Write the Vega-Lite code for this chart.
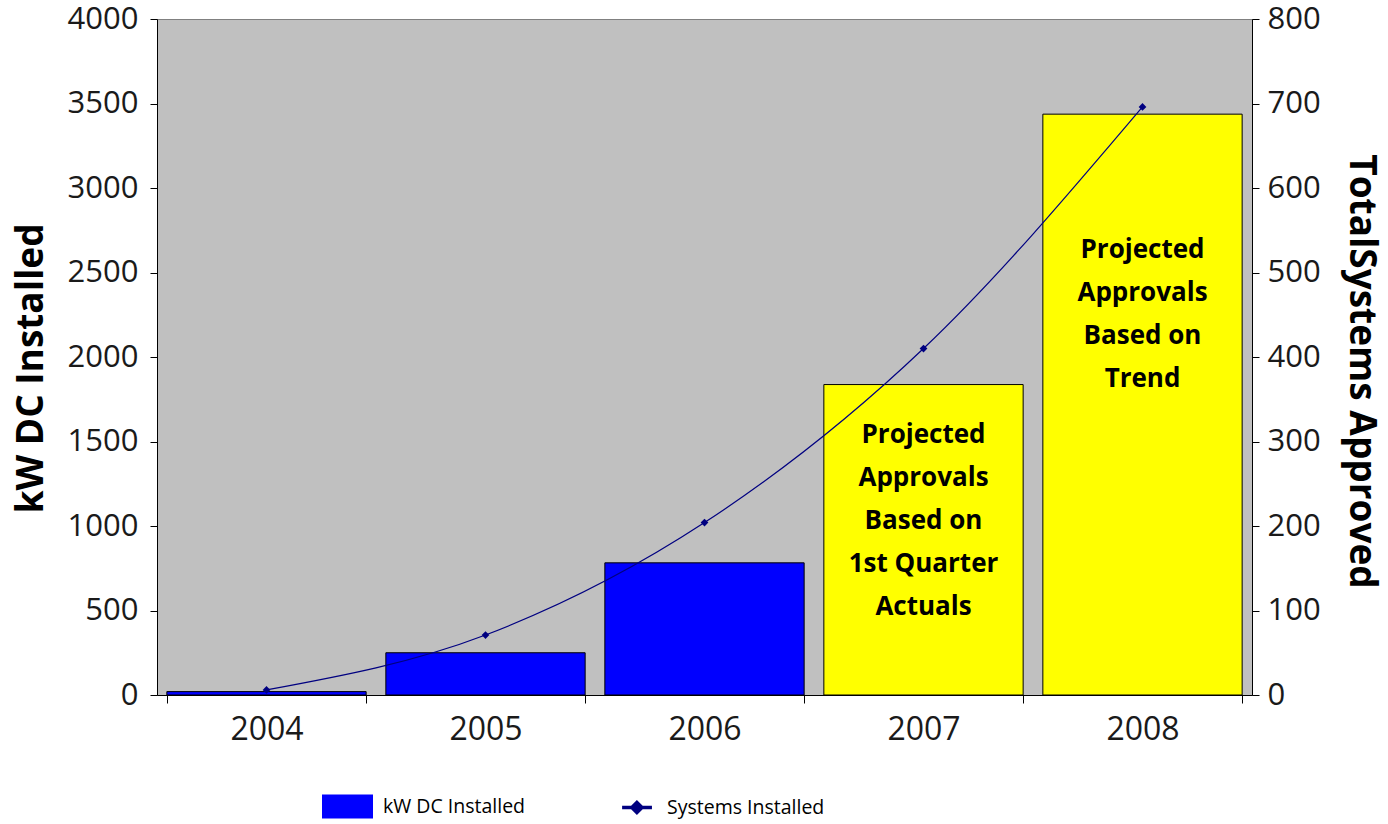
{
  "$schema": "https://vega.github.io/schema/vega-lite/v6.json",
  "width": 1095,
  "height": 676,
  "autosize": {"type": "none"},
  "padding": {"left": 157, "top": 19, "right": 136, "bottom": 129},
  "background": "#FFFFFF",
  "config": {
    "view": {"fill": "#C0C0C0", "stroke": "#808080", "strokeWidth": 1},
    "font": "Open Sans"
  },
  "data": {
    "values": [
      {"year": "2004", "kw": 20, "systems": 6, "series": "kW DC Installed", "label": null, "labelY": null},
      {"year": "2005", "kw": 250, "systems": 71, "series": "kW DC Installed", "label": null, "labelY": null},
      {"year": "2006", "kw": 782, "systems": 204, "series": "kW DC Installed", "label": null, "labelY": null},
      {"year": "2007", "kw": 1837, "systems": 410, "series": "Projected", "label": "Projected\nApprovals\nBased on\n1st Quarter\nActuals", "labelY": 1615},
      {"year": "2008", "kw": 3437, "systems": 696, "series": "Projected", "label": "Projected\nApprovals\nBased on\nTrend", "labelY": 2710}
    ]
  },
  "encoding": {
    "x": {
      "field": "year",
      "type": "nominal",
      "scale": {"paddingInner": 0.09, "paddingOuter": 0.045},
      "axis": {
        "title": null,
        "labelAngle": 0,
        "labelFontSize": 32,
        "labelColor": "#1a1a1a",
        "labelPadding": 11,
        "tickBand": "extent",
        "tickSize": 8,
        "tickColor": "#000000",
        "domainColor": "#000000",
        "labelFont": "Open Sans"
      }
    }
  },
  "layer": [
    {
      "layer": [
        {
          "mark": {"type": "bar", "stroke": "#000000", "strokeWidth": 1},
          "encoding": {
            "y": {
              "field": "kw",
              "type": "quantitative",
              "scale": {"domain": [0, 4000], "nice": false},
              "axis": {
                "title": "kW DC Installed",
                "orient": "left",
                "format": "d",
                "values": [0, 500, 1000, 1500, 2000, 2500, 3000, 3500, 4000],
                "grid": false,
                "labelFontSize": 31,
                "labelColor": "#1a1a1a",
                "labelFont": "Open Sans",
                "tickSize": 7,
                "tickColor": "#000000",
                "domainColor": "#000000",
                "labelPadding": 12,
                "titleFontSize": 37,
                "titleFontWeight": "bold",
                "titleColor": "#000000",
                "titleFont": "Open Sans",
                "titlePadding": 17,
                "titleY": 349
              }
            },
            "color": {
              "field": "series",
              "type": "nominal",
              "scale": {
                "domain": ["kW DC Installed", "Projected"],
                "range": ["#0000FF", "#FFFF00"]
              },
              "legend": {
                "orient": "none",
                "legendX": 165,
                "legendY": 762,
                "direction": "horizontal",
                "title": null,
                "values": ["kW DC Installed"],
                "labelFontSize": 19.5,
                "labelFont": "Open Sans",
                "labelColor": "#000000",
                "labelLimit": 0,
                "symbolSize": 2601,
                "symbolType": "M-1,-0.47H1V0.47H-1Z",
                "symbolStrokeWidth": 0,
                "labelOffset": 10
              }
            }
          }
        },
        {
          "transform": [{"filter": "datum.label != null"}],
          "mark": {
            "type": "text",
            "lineBreak": "\n",
            "lineHeight": 43,
            "baseline": "top",
            "align": "center",
            "fontSize": 26,
            "fontWeight": "bold",
            "font": "Open Sans",
            "color": "#000000"
          },
          "encoding": {
            "y": {"field": "labelY", "type": "quantitative"},
            "text": {"field": "label", "type": "nominal"}
          }
        }
      ]
    },
    {
      "layer": [
        {
          "mark": {"type": "line", "interpolate": "monotone", "strokeWidth": 1.2},
          "encoding": {
            "y": {
              "field": "systems",
              "type": "quantitative",
              "scale": {"domain": [0, 800], "nice": false},
              "axis": {
                "title": "TotalSystems Approved",
                "orient": "right",
                "format": "d",
                "values": [0, 100, 200, 300, 400, 500, 600, 700, 800],
                "grid": false,
                "labelFontSize": 31,
                "labelColor": "#1a1a1a",
                "labelFont": "Open Sans",
                "tickSize": 7,
                "tickColor": "#000000",
                "domainColor": "#000000",
                "labelPadding": 8,
                "titleFontSize": 37,
                "titleFontWeight": "bold",
                "titleColor": "#000000",
                "titleFont": "Open Sans",
                "titleAngle": 90,
                "titlePadding": 21,
                "titleY": 352
              }
            },
            "stroke": {
              "datum": "Systems Installed",
              "scale": {"domain": ["Systems Installed"], "range": ["#000080"]},
              "legend": {
                "orient": "none",
                "legendX": 445,
                "legendY": 761,
                "direction": "horizontal",
                "title": null,
                "labelFontSize": 19.5,
                "labelFont": "Open Sans",
                "labelColor": "#000000",
                "labelLimit": 0,
                "symbolSize": 2601,
                "symbolType": "M-0.29,0H0.88M0.29,-0.2L0.49,0L0.29,0.2L0.09,0Z",
                "symbolStrokeWidth": 3.5,
                "symbolFillColor": "#000080",
                "labelOffset": 10
              }
            }
          }
        },
        {
          "mark": {"type": "point", "shape": "diamond", "filled": true, "size": 60, "opacity": 1, "color": "#000080"},
          "encoding": {
            "y": {"field": "systems", "type": "quantitative"}
          }
        }
      ]
    }
  ],
  "resolve": {"scale": {"y": "independent"}}
}
